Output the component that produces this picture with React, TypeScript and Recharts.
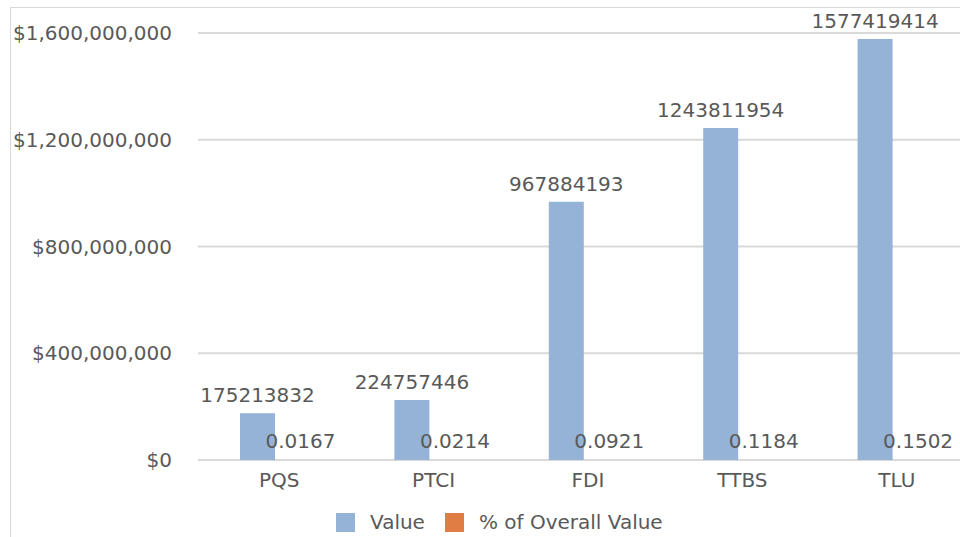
import { Bar, BarChart, CartesianGrid, LabelList, Legend, XAxis, YAxis } from "recharts";

const categories = ["PQS", "PTCI", "FDI", "TTBS", "TLU"];
const totalValue = [175213832, 224757446, 967884193, 1243811954, 1577419414];
const shareOfOverall = [0.0167, 0.0214, 0.0921, 0.1184, 0.1502];
const yTicks = [0, 400000000, 800000000, 1200000000, 1600000000];

const rows = categories.map((name, i) => ({
  name,
  value: totalValue[i],
  share: shareOfOverall[i],
}));

const FONT = "'DejaVu Sans', sans-serif";
const TEXT = "#595959";

const money = (v: number) => "$" + v.toLocaleString("en-US");

function ShareLabel(props: any) {
  const { x, y, width, value } = props;
  return (
    <text
      x={Number(x) + Number(width) / 2 + 8}
      y={Number(y) - 12}
      textAnchor="middle"
      fill={TEXT}
      fontSize={20}
      fontFamily={FONT}
    >
      {value}
    </text>
  );
}

function LegendBox() {
  const items = [
    { label: "Value", color: "#95b3d7" },
    { label: "% of Overall Value", color: "#e07d45" },
  ];
  return (
    <div style={{ display: "flex", height: 24, paddingLeft: 336, fontFamily: FONT, fontSize: 20, color: TEXT }}>
      {items.map((it) => (
        <div key={it.label} style={{ display: "flex", alignItems: "center", marginRight: 20 }}>
          <span style={{ width: 19, height: 19, background: it.color, display: "inline-block", marginRight: 15 }} />
          <span style={{ lineHeight: "22px" }}>{it.label}</span>
        </div>
      ))}
    </div>
  );
}

export default function App() {
  return (
    <div style={{ position: "fixed", left: 0, top: 0, width: 960, height: 537, overflow: "hidden", background: "#fff" }}>
      <div
        style={{
          position: "absolute",
          left: 10,
          top: 7,
          width: 1000,
          height: 600,
          borderLeft: "1px solid #d9d9d9",
          borderTop: "1px solid #d9d9d9",
        }}
      />
      <div style={{ position: "absolute", left: 0, top: 0 }}>
        <BarChart
          width={1000}
          height={600}
          data={rows}
          margin={{ top: 33, right: 30, bottom: 0, left: 0 }}
          barGap={0}
          barSize={35}
        >
          <CartesianGrid vertical={false} stroke="#d9d9d9" strokeWidth={2} />
          <XAxis
            dataKey="name"
            height={116}
            axisLine={false}
            tickLine={false}
            tickMargin={7}
            tick={{ fill: TEXT, fontSize: 20, fontFamily: FONT, dx: 4 }}
          />
          <YAxis
            width={198}
            domain={[0, 1600000000]}
            ticks={yTicks}
            tickFormatter={money}
            axisLine={false}
            tickLine={false}
            tickMargin={20}
            tick={{ fill: TEXT, fontSize: 20, fontFamily: FONT }}
          />
          <Legend
            content={<LegendBox />}
            wrapperStyle={{ top: 510, bottom: "auto", left: 0, width: 1000 }}
          />
          <Bar dataKey="value" name="Value" fill="#95b3d7" isAnimationActive={false}>
            <LabelList
              dataKey="value"
              position="top"
              offset={11}
              fill={TEXT}
              fontSize={20}
              fontFamily={FONT}
            />
          </Bar>
          <Bar dataKey="share" name="% of Overall Value" fill="#e07d45" isAnimationActive={false}>
            <LabelList dataKey="share" content={<ShareLabel />} />
          </Bar>
        </BarChart>
      </div>
    </div>
  );
}
